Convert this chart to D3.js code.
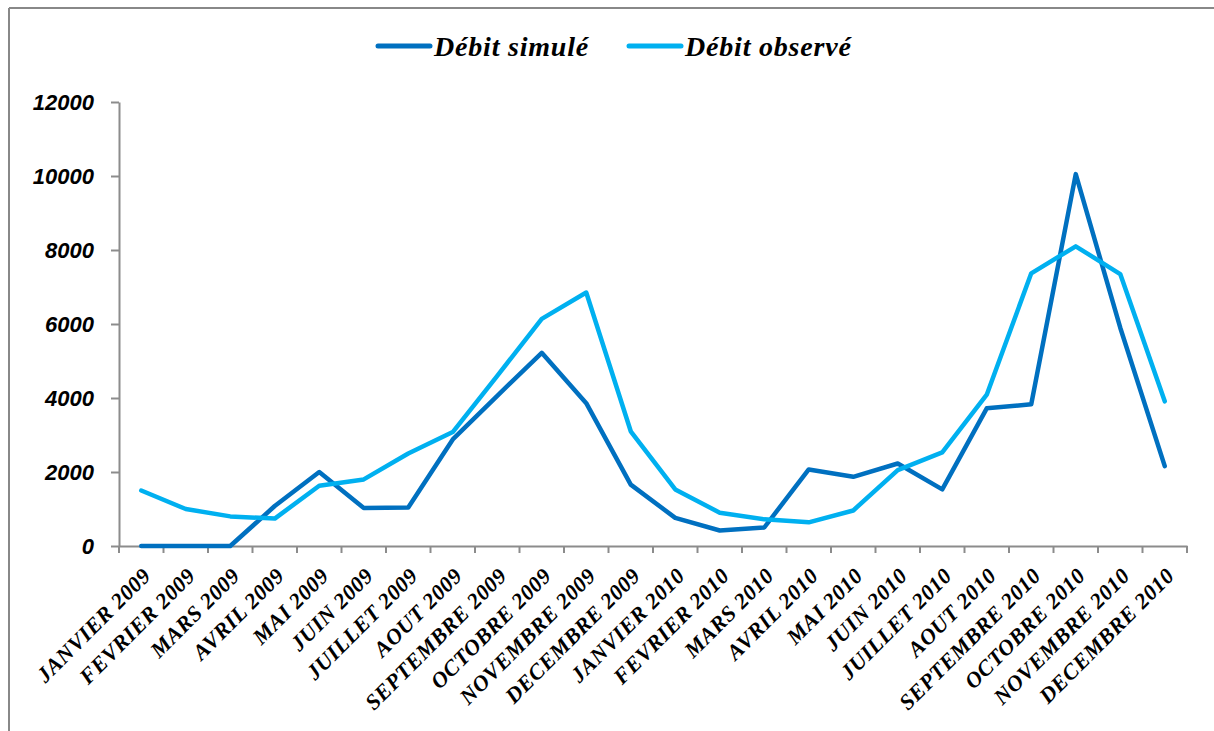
<!DOCTYPE html>
<html lang="fr">
<head>
<meta charset="utf-8">
<title>Débit simulé / observé</title>
<script src="https://cdn.jsdelivr.net/npm/d3@7"></script>
<style>
  body { margin: 0; background: #fff; }
  .ylab text { font-family: "Liberation Sans", Arial, sans-serif; font-weight: bold; font-style: italic; font-size: 22px; fill: #000; }
  .xlab text { font-family: "Liberation Serif", serif; font-weight: bold; font-style: italic; font-size: 22px; letter-spacing: 0.6px; fill: #000; }
  .legend text { font-family: "Liberation Serif", serif; font-weight: bold; font-style: italic; font-size: 28px; letter-spacing: 0.8px; }
  .domain, .tick line { stroke: #8c8c8c; stroke-width: 2px; }
</style>
</head>
<body>
<div id="chart"></div>
<script>
  var width = 1214, height = 731;

  // data
  var months = ["JANVIER 2009", "FEVRIER 2009", "MARS 2009", "AVRIL 2009", "MAI 2009", "JUIN 2009",
    "JUILLET 2009", "AOUT 2009", "SEPTEMBRE 2009", "OCTOBRE 2009", "NOVEMBRE 2009", "DECEMBRE 2009",
    "JANVIER 2010", "FEVRIER 2010", "MARS 2010", "AVRIL 2010", "MAI 2010", "JUIN 2010",
    "JUILLET 2010", "AOUT 2010", "SEPTEMBRE 2010", "OCTOBRE 2010", "NOVEMBRE 2010", "DECEMBRE 2010"];

  var simule = [0, 0, 0, 1080, 2000, 1030, 1040, 2880, 4060, 5220, 3860, 1660,
    760, 420, 500, 2070, 1870, 2230, 1530, 3720, 3830, 10050, 5900, 2160];

  var observe = [1500, 1000, 800, 740, 1630, 1800, 2500, 3080, 4600, 6140, 6850, 3100,
    1530, 900, 720, 640, 960, 2050, 2530, 4090, 7370, 8100, 7350, 3910];

  var yTicks = [0, 2000, 4000, 6000, 8000, 10000, 12000];

  var series = [
    { name: "Débit simulé", values: simule, color: "#0070c0" },
    { name: "Débit observé", values: observe, color: "#00b0f0" }
  ];

  var plotLeft = 119, plotRight = 1187, plotTop = 102, plotBottom = 546;

  var svg = d3.select("#chart").append("svg")
    .attr("width", width)
    .attr("height", height);

  // border of the chart area
  svg.append("line").attr("x1", 9).attr("x2", width).attr("y1", 8).attr("y2", 8)
    .attr("stroke", "#888").attr("stroke-width", 2);
  svg.append("line").attr("x1", 9).attr("x2", 9).attr("y1", 8).attr("y2", height)
    .attr("stroke", "#888").attr("stroke-width", 2);

  var x = d3.scaleBand().domain(months).range([plotLeft, plotRight]);
  var y = d3.scaleLinear().domain([0, 12000]).range([plotBottom, plotTop]);

  // y axis
  var yAxis = svg.append("g")
    .attr("class", "ylab")
    .attr("transform", "translate(" + plotLeft + ",0)")
    .call(d3.axisLeft(y).tickValues(yTicks).tickFormat(d3.format("d"))
      .tickSize(8).tickPadding(17).tickSizeOuter(0));
  yAxis.selectAll("text").attr("dy", "0.36em");

  // x axis, ticks between the categories
  var xAxis = svg.append("g")
    .attr("class", "xlab")
    .attr("transform", "translate(0," + plotBottom + ")")
    .call(d3.axisBottom(x).tickSize(0).tickSizeOuter(0));

  svg.append("g")
    .selectAll("line")
    .data(months.concat([null]))
    .enter().append("line")
    .attr("x1", function (d, i) { return plotLeft + i * x.step(); })
    .attr("x2", function (d, i) { return plotLeft + i * x.step(); })
    .attr("y1", plotBottom)
    .attr("y2", plotBottom + 7)
    .attr("stroke", "#8c8c8c")
    .attr("stroke-width", 2);

  xAxis.selectAll(".tick text")
    .attr("text-anchor", "end")
    .attr("y", 0)
    .attr("dy", 0)
    .attr("transform", "translate(11,31) rotate(-45)");

  // lines
  var line = d3.line()
    .x(function (d, i) { return x(months[i]) + x.bandwidth() / 2; })
    .y(function (d) { return y(d); });

  svg.append("g")
    .selectAll("path")
    .data(series)
    .enter().append("path")
    .attr("d", function (d) { return line(d.values); })
    .attr("fill", "none")
    .attr("stroke", function (d) { return d.color; })
    .attr("stroke-width", 4.5)
    .attr("stroke-linejoin", "round")
    .attr("stroke-linecap", "round");

  // legend
  var legend = svg.append("g").attr("class", "legend");
  var legendX = [378, 629];
  series.forEach(function (s, i) {
    legend.append("line")
      .attr("x1", legendX[i]).attr("x2", legendX[i] + 52)
      .attr("y1", 46).attr("y2", 46)
      .attr("stroke", s.color).attr("stroke-width", 5).attr("stroke-linecap", "round");
    legend.append("text")
      .attr("x", legendX[i] + 56).attr("y", 56)
      .text(s.name);
  });
</script>
</body>
</html>
